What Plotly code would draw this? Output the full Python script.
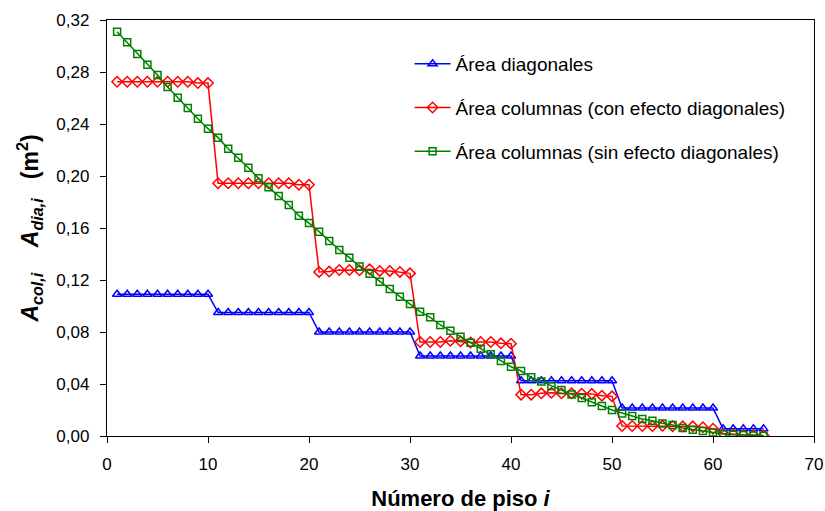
import plotly.graph_objects as go

floors = list(range(1, 66))

area_diagonales = [0.109]*10 + [0.095]*10 + [0.080]*10 + [0.0615]*10 + [0.0425]*10 + [0.0215]*10 + [0.0055]*5

area_col_con = (
    [0.2725]*8 + [0.2715, 0.2715]
    + [0.1944]*8 + [0.1933, 0.1933]
    + [0.1262, 0.1265, 0.1277, 0.1277, 0.1275, 0.1282, 0.1270, 0.1270, 0.1262, 0.1251]
    + [0.0723, 0.0723, 0.0723, 0.0733, 0.0728, 0.0720, 0.0723, 0.0723, 0.0713, 0.0710]
    + [0.0318, 0.0318, 0.0328, 0.0333, 0.0328, 0.0328, 0.0325, 0.0324, 0.0310, 0.0305]
    + [0.0077, 0.0077, 0.0077, 0.0077, 0.0078, 0.0076, 0.0074, 0.0074, 0.0068, 0.0056]
    + [0.0020, 0.0013, 0.0010, 0.0007, 0.0003]
)

area_col_sin = [
    0.311, 0.3028, 0.2938, 0.2856, 0.2777, 0.2685, 0.2602, 0.2523, 0.2441, 0.2364,
    0.2295, 0.2210, 0.2140, 0.2064, 0.1982, 0.1913, 0.1846, 0.1777, 0.1695, 0.1638,
    0.1572, 0.1500, 0.1431, 0.1372, 0.1303, 0.1249, 0.1187, 0.1131, 0.1072, 0.1015,
    0.0956, 0.0913, 0.0854, 0.0810, 0.0764, 0.0718, 0.0672, 0.0628, 0.0577, 0.0533,
    0.0500, 0.0451, 0.0420, 0.0385, 0.0354, 0.0320, 0.0292, 0.0259, 0.0231, 0.0200,
    0.0174, 0.0154, 0.0131, 0.0118, 0.0097, 0.0085, 0.0062, 0.0049, 0.0038, 0.0026,
    0.0015, 0.0010, 0.0007, 0.0003, 0.0002,
]

x_ticks = [0, 10, 20, 30, 40, 50, 60, 70]
y_ticks = [0.00, 0.04, 0.08, 0.12, 0.16, 0.20, 0.24, 0.28, 0.32]

font_family = "Liberation Sans, Arial, sans-serif"
NB = "\u00a0"

fig = go.Figure()
fig.add_trace(go.Scatter(
    x=floors, y=area_diagonales, mode="lines+markers",
    name="Área diagonales", legendgroup="a",
    line=dict(color="#0000FF", width=1.5),
    marker=dict(symbol="triangle-up-open", size=8, color="#0000FF", line=dict(width=1.5)),
))
fig.add_trace(go.Scatter(
    x=floors, y=area_col_con, mode="lines+markers",
    name="Área columnas (con efecto diagonales)", legendgroup="b",
    line=dict(color="#FF0000", width=1.5),
    marker=dict(symbol="diamond-open", size=8, color="#FF0000", line=dict(width=1.5)),
))
fig.add_trace(go.Scatter(
    x=floors, y=area_col_sin, mode="lines+markers",
    name="Área columnas (sin efecto diagonales)", legendgroup="c",
    line=dict(color="#008000", width=1.5),
    marker=dict(symbol="square-open", size=7, color="#008000", line=dict(width=1.5)),
))

ytitle = ("<b><i>A<sub>col,i</sub></i>" + NB*4 + "<i>A<sub>dia,i</sub></i>" + NB*3
          + "(m<sup>2</sup>)</b>" + NB*2)

fig.update_layout(
    width=825, height=511,
    margin=dict(l=107, r=11, t=20, b=75),
    paper_bgcolor="white", plot_bgcolor="white",
    separators=",.",
    font=dict(family=font_family, size=17, color="black"),
    showlegend=True,
    legend=dict(
        x=0.428, y=0.94, xanchor="left", yanchor="top",
        bgcolor="rgba(0,0,0,0)", font=dict(size=19),
        tracegroupgap=16, itemwidth=36,
    ),
    xaxis=dict(
        range=[0, 70], tickvals=x_ticks, ticktext=[str(v) for v in x_ticks],
        showline=True, linecolor="black", linewidth=1.3, mirror=True,
        ticks="outside", ticklen=6, tickcolor="black",
        ticklabelstandoff=6, automargin=False,
        showgrid=False, zeroline=False,
        title=dict(text="<b>Número de piso <i>i</i></b>", font=dict(size=22), standoff=19),
    ),
    yaxis=dict(
        range=[0, 0.32], tickvals=y_ticks, tickformat=".2f",
        showline=True, linecolor="black", linewidth=1.3, mirror=True,
        ticks="outside", ticklen=6, tickcolor="black",
        ticklabelstandoff=7, automargin=False,
        showgrid=False, zeroline=False,
        title=dict(text=ytitle, font=dict(size=23), standoff=11),
    ),
)

fig.write_html("out.html")
